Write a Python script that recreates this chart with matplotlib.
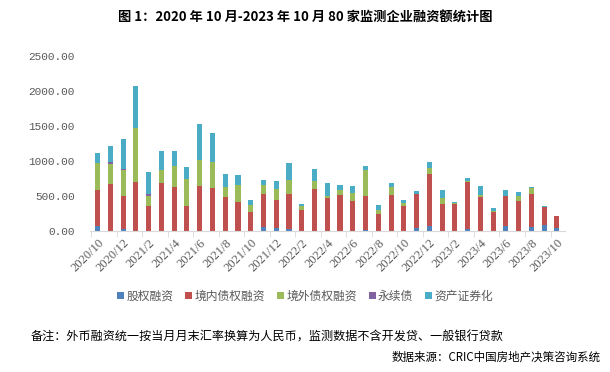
import matplotlib
matplotlib.use('Agg')
import matplotlib.pyplot as plt
import numpy as np

plt.rcParams['font.family'] = ['Noto Sans CJK SC', 'DejaVu Sans']

# months 2020/10 .. 2023/10
months = []
for y in range(2020, 2024):
    for m in range(1, 13):
        if (y == 2020 and m < 10) or (y == 2023 and m > 10):
            continue
        months.append(f'{y}/{m}')

equity = [76, 0, 29, 0, 0, 0, 0, 0, 0, 0, 0, 0, 0,
          57, 48, 29, 0, 0, 0, 0, 0, 14, 0, 0, 0, 43, 71,
          0, 0, 29, 0, 0, 71, 0, 57, 86, 43]
domestic = [510, 671, 471, 700, 357, 685, 628, 357, 643, 614, 486, 414, 271,
            471, 395, 499, 300, 600, 471, 514, 428, 486, 243, 514, 357, 485, 743,
            386, 386, 671, 486, 271, 429, 428, 471, 257, 171]
overseas = [385, 286, 371, 771, 143, 186, 300, 386, 371, 371, 142, 243, 100,
            129, 157, 200, 57, 114, 29, 71, 115, 371, 57, 114, 43, 0, 86,
            85, 14, 14, 28, 15, 0, 72, 86, 0, 0]
perpetual = [0, 28, 19, 0, 28, 0, 0, 0, 0, 0, 0, 0, 0,
             0, 0, 0, 0, 0, 0, 0, 0, 0, 0, 0, 0, 0, 0,
             0, 0, 0, 0, 0, 0, 0, 7, 0, 0]
abs_sec = [143, 229, 424, 600, 315, 271, 214, 171, 514, 414, 186, 143, 72,
           71, 114, 243, 29, 171, 185, 72, 100, 57, 71, 57, 43, 43, 85,
           114, 14, 43, 129, 42, 85, 57, 7, 14, 0]

names = ['股权融资', '境内债权融资', '境外债权融资', '永续债', '资产证券化']
colors = ['#4F81BD', '#C0504D', '#9BBB59', '#8064A2', '#4BACC6']
series = [equity, domestic, overseas, perpetual, abs_sec]

fig = plt.figure(figsize=(6.1, 3.72), dpi=100)
ax = fig.add_axes([0.1475, 0.379, 0.778, 0.47])

x = np.arange(len(months))
bottom = np.zeros(len(months))
for vals, name, c in zip(series, names, colors):
    vals = np.array(vals, dtype=float)
    ax.bar(x, vals, width=0.4, bottom=bottom, color=c, label=name)
    bottom += vals

ax.set_xlim(-0.6, len(months) - 0.4)
ax.set_ylim(0, 2500)
ax.set_yticks(np.arange(0, 2501, 500))
ax.set_yticklabels([f'{v:.2f}' for v in np.arange(0, 2501, 500)],
                   fontsize=8, color='#595959', family='Liberation Mono')
ax.tick_params(axis='y', length=0, pad=11)

ax.set_xticks(x[::2])
ax.set_xticklabels(months[::2], rotation=45, ha='right', rotation_mode='anchor',
                   fontsize=9, color='#595959', family='Liberation Serif')
ax.set_xticks(np.arange(-0.5, len(months), 2), minor=True)
ax.tick_params(axis='x', which='major', length=0, pad=4)
ax.tick_params(axis='x', which='minor', length=4, color='#D9D9D9')

for s in ['top', 'right', 'left']:
    ax.spines[s].set_visible(False)
ax.spines['bottom'].set_color('#D9D9D9')

fig.text(0.5, 0.954, '图 1：2020 年 10 月-2023 年 10 月 80 家监测企业融资额统计图',
         ha='center', va='center', fontsize=9.5, fontweight='bold')

fig.legend(loc='center', bbox_to_anchor=(0.5, 0.204), ncol=5, frameon=False,
           fontsize=8.5, handlelength=0.6, handleheight=0.6, handletextpad=0.2,
           columnspacing=1.0, labelcolor='#595959')

fig.text(0.05, 0.094, '备注：外币融资统一按当月月末汇率换算为人民币，监测数据不含开发贷、一般银行贷款',
         ha='left', va='center', fontsize=8.7)
fig.text(0.985, 0.04, '数据来源：CRIC中国房地产决策咨询系统',
         ha='right', va='center', fontsize=8.3)

fig.savefig('out.png', dpi=100)
